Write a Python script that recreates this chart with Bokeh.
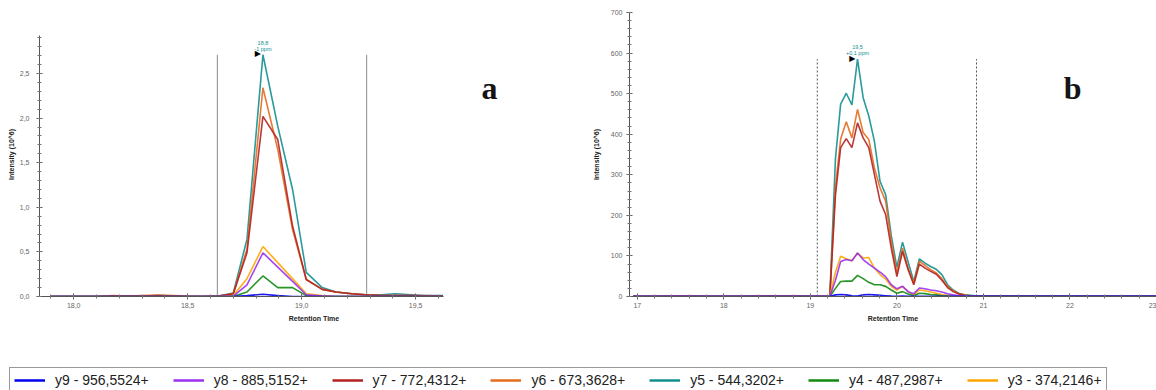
from bokeh.plotting import figure
from bokeh.models import Label, Legend, LegendItem, CustomJSTickFormatter, SingleIntervalTicker, Range1d
from bokeh.layouts import column, row
from bokeh.embed import file_html
from bokeh.resources import INLINE
from bokeh.core.properties import value

# ---------------- data ----------------
series_names = ["y9 - 956,5524+", "y8 - 885,5152+", "y7 - 772,4312+", "y6 - 673,3628+",
                "y5 - 544,3202+", "y4 - 487,2987+", "y3 - 374,2146+"]
series_colors = ["#0000ee", "#9b30f0", "#b22222", "#e46c1e", "#138f8f", "#108a10", "#ffa500"]

# panel a : retention time (min) and intensity (10^6)
time_a = [17.90, 18.00, 18.10, 18.17, 18.24, 18.30, 18.37, 18.44, 18.50, 18.57, 18.635, 18.70,
          18.76, 18.83, 18.895, 18.96, 19.02, 19.09, 19.15, 19.22, 19.28, 19.35, 19.41, 19.48,
          19.54, 19.62]
a_y9 = [0, 0, 0, 0, 0, 0, 0, 0, 0, 0, 0, 0, 0.01, 0.025, 0.01, 0, 0, 0, 0, 0, 0, 0, 0, 0, 0, 0]
a_y8 = [0, 0, 0, 0, 0, 0, 0, 0, 0, 0, 0, 0.005, 0.13, 0.49, 0.33, 0.17, 0.02, 0.005, 0, 0, 0, 0, 0, 0, 0, 0]
a_y7 = [0, 0, 0, 0.005, 0.005, 0.005, 0.01, 0.005, 0, 0, 0.005, 0.03, 0.49, 2.02, 1.76, 0.79, 0.19,
        0.08, 0.05, 0.03, 0.02, 0.01, 0.01, 0.01, 0.005, 0.005]
a_y6 = [0, 0, 0, 0.01, 0.005, 0.01, 0.015, 0.01, 0.005, 0, 0.005, 0.03, 0.53, 2.34, 1.65, 0.75, 0.19,
        0.08, 0.05, 0.03, 0.02, 0.01, 0.01, 0.01, 0.01, 0.005]
a_y5 = [0, 0, 0, 0.005, 0.005, 0, 0.005, 0.005, 0, 0, 0.005, 0.04, 0.64, 2.71, 1.91, 1.20, 0.27,
        0.10, 0.05, 0.03, 0.02, 0.02, 0.03, 0.02, 0.01, 0.01]
a_y4 = [0, 0, 0, 0, 0, 0, 0, 0, 0, 0, 0, 0, 0.05, 0.23, 0.10, 0.10, 0.01, 0, 0, 0, 0, 0, 0, 0, 0, 0]
a_y3 = [0, 0, 0, 0, 0, 0, 0, 0, 0, 0, 0, 0.01, 0.20, 0.56, 0.38, 0.20, 0.03, 0.01, 0, 0, 0, 0, 0, 0, 0, 0]
a_bounds = [18.63, 19.285]

# panel b
time_b = [16.95, 17.2, 17.4, 17.6, 17.8, 18.0, 18.2, 18.4, 18.6, 18.8, 19.0, 19.16, 19.225,
          19.29, 19.35, 19.415, 19.48, 19.545, 19.61, 19.675, 19.74, 19.805, 19.87, 19.935, 20.0,
          20.065, 20.13, 20.195, 20.26, 20.325, 20.39, 20.455, 20.52, 20.585, 20.65, 20.715, 20.78,
          20.845, 20.91, 21.0, 21.2, 21.4, 21.6, 21.8, 22.0, 22.2, 22.4, 22.6, 23.0]
b_y9 = [0, 0, 0, 0, 0, 0, 0, 0, 0, 0, 0, 0, 0,
        4, 5, 4, 2, 1, 4, 5, 4, 3, 2, 1, 0.5, 1, 0.5, 0.5, 0.5, 0.5, 0.5, 0.5, 0.5, 0.5, 0.5, 0.5,
        0.5, 0.5, 0.5, 0.5, 0.5, 0.5, 0.5, 0.5, 0.5, 0.5, 0.5, 0.5, 0.5]
b_y8 = [0.5, 0.5, 0.5, 0.5, 0.5, 0.5, 0.5, 0.5, 0.5, 0.5, 0.5, 0.5, 0,
        40, 86, 91, 88, 107, 91, 80, 70, 60, 49, 29, 19, 25, 12, 7, 21, 19, 16, 14, 11, 7, 4, 2,
        1, 0.5, 0.5, 0.5, 0.5, 0.5, 0.5, 0.5, 0.5, 0.5, 0.5, 0.5, 0.5]
b_y7 = [0.5, 0.5, 1, 1, 0.5, 0.5, 0.5, 1, 1, 1, 0.5, 0.5, 0,
        250, 367, 389, 367, 428, 391, 367, 301, 235, 202, 119, 49, 111, 66, 29, 80, 70, 62, 55, 40,
        22, 12, 6, 3, 2, 1, 1, 1, 1, 0.5, 0.5, 0.5, 0.5, 0.5, 0.5, 0.5]
b_y6 = [0.5, 0.5, 1, 1, 0.5, 0.5, 0.5, 1, 1, 1, 0.5, 0.5, 0,
        270, 388, 431, 391, 461, 404, 387, 317, 268, 235, 136, 58, 119, 70, 33, 87, 76, 66, 58, 44,
        25, 14, 7, 4, 2, 2, 1.5, 1, 1, 1, 0.5, 0.5, 0.5, 0.5, 0.5, 0.5]
b_y5 = [0.5, 0.5, 1, 1, 0.5, 0.5, 0.5, 1, 1, 1, 0.5, 0.5, 0,
        340, 474, 501, 472, 585, 490, 445, 383, 284, 251, 150, 72, 134, 85, 37, 93, 82, 74, 67, 54,
        29, 16, 8, 4, 3, 2, 1.5, 1, 1, 1, 0.5, 0.5, 0.5, 0.5, 0.5, 0.5]
b_y4 = [0, 0, 0, 0, 0, 0, 0, 0, 0, 0, 0, 0, 0,
        20, 37, 38, 38, 52, 44, 35, 29, 29, 25, 16, 8, 12, 6, 2, 8, 7, 5, 4, 2, 1, 0.5, 0.5, 0.5,
        0.5, 0.5, 0.5, 0.5, 0.5, 0.5, 0.5, 0.5, 0.5, 0.5, 0.5, 0.5]
b_y3 = [0, 0, 0, 0, 0, 0, 0, 0, 0, 0, 0, 0, 0,
        60, 99, 93, 88, 107, 95, 96, 70, 54, 43, 25, 16, 25, 12, 4, 16, 14, 11, 8, 5, 3, 2, 1, 1,
        0.5, 0.5, 0.5, 0.5, 0.5, 0.5, 0.5, 0.5, 0.5, 0.5, 0.5, 0.5]
b_bounds = [19.08, 20.92]

panel_a = [a_y9, a_y8, a_y7, a_y6, a_y5, a_y4, a_y3]
panel_b = [b_y9, b_y8, b_y7, b_y6, b_y5, b_y4, b_y3]
draw_order = [4, 3, 2, 6, 5, 1, 0]   # teal first ... blue last (on top)
ref_idx = 4                           # y5 used for peak annotation
ppm_a, ppm_b = "-1 ppm", "+0,1 ppm"

FONT = "Liberation Sans"


def style_axes(p, y_standoff, y_label_standoff):
    for ax in (p.xaxis[0], p.yaxis[0]):
        ax.axis_line_color = "#555555"
        ax.major_tick_line_color = "#555555"
        ax.minor_tick_line_color = "#777777"
        ax.major_tick_in = 3
        ax.major_tick_out = 3
        ax.minor_tick_in = 2
        ax.minor_tick_out = 2
        ax.major_label_text_font = FONT
        ax.major_label_text_font_size = "7px"
        ax.major_label_text_color = "#666666"
        ax.axis_label_text_font = FONT
        ax.axis_label_text_font_size = "7px"
        ax.axis_label_text_font_style = "bold"
        ax.axis_label_text_color = "#222222"
    p.xaxis.axis_label = "Retention Time"
    p.yaxis.axis_label = "Intensity (10^6)"
    p.xaxis.major_label_standoff = 3
    p.xaxis.axis_label_standoff = 4
    p.yaxis.major_label_standoff = y_standoff
    p.yaxis.axis_label_standoff = y_label_standoff
    p.xgrid.visible = False
    p.ygrid.visible = False
    p.outline_line_color = None


def fmt1(t):
    return ("%.1f" % t).replace(".", ",")


def draw_panel(p, times, data, bounds, dash, bcolor, ppm):
    ref = data[ref_idx]
    peak_i = max(range(len(ref)), key=lambda i: ref[i])
    top = ref[peak_i]
    p.segment(x0=bounds, x1=bounds, y0=[0] * len(bounds), y1=[top] * len(bounds),
              line_color=bcolor, line_width=1, line_dash=dash)
    for k in draw_order:
        p.line(times, data[k], line_color=series_colors[k], line_width=1.6, line_alpha=0.9)
    pt, pv = times[peak_i], ref[peak_i]
    p.text(x=[pt], y=[pv], text=["\u25B6"], text_align="right", text_baseline="middle",
           x_offset=-2, y_offset=-1, text_font=value("DejaVu Sans"), text_font_size="8px",
           text_color="black")
    p.text(x=[pt, pt], y=[pv, pv], text=[fmt1(pt), ppm], text_align="center",
           text_baseline="middle", y_offset=[-12, -6], text_font=value(FONT),
           text_font_size="5.5px", text_color=series_colors[ref_idx])


# ---------------- panel a ----------------
pa = figure(width=588, height=338, x_range=Range1d(17.85, 20.258), y_range=Range1d(0, 3.184),
            output_backend="svg", toolbar_location=None,
            min_border_left=39, min_border_right=0, min_border_top=12, min_border_bottom=42)
style_axes(pa, 7, 2)
pa.xaxis.ticker = SingleIntervalTicker(interval=0.5, num_minor_ticks=5)
pa.yaxis.ticker = SingleIntervalTicker(interval=0.5, num_minor_ticks=5)
pa.xaxis.bounds = (17.85, 19.622)
pa.yaxis.bounds = (0, 2.926)
pa.xaxis.formatter = CustomJSTickFormatter(code="return tick.toFixed(1).replace('.', ',');")
pa.yaxis.formatter = CustomJSTickFormatter(code="return tick.toFixed(1).replace('.', ',');")
draw_panel(pa, time_a, panel_a, a_bounds, "solid", "#8a8a8a", ppm_a)
pa.add_layout(Label(x=19.824, y=2.34, text="a", text_font="Liberation Serif", text_font_size="32px",
                    text_font_style="bold", text_color="#141414", text_align="center",
                    text_baseline="middle"))

# ---------------- panel b ----------------
pb = figure(width=568, height=338, x_range=Range1d(16.91, 23.0), y_range=Range1d(0, 700),
            output_backend="svg", toolbar_location=None,
            min_border_left=41, min_border_right=0, min_border_top=12, min_border_bottom=42)
style_axes(pb, 4, 8)
pb.xaxis.ticker = SingleIntervalTicker(interval=1, num_minor_ticks=5)
pb.yaxis.ticker = SingleIntervalTicker(interval=100, num_minor_ticks=5)
draw_panel(pb, time_b, panel_b, b_bounds, "2 2", "#555555", ppm_b)
pb.add_layout(Label(x=22.03, y=515, text="b", text_font="Liberation Serif", text_font_size="32px",
                    text_font_style="bold", text_color="#141414", text_align="center",
                    text_baseline="middle"))

# ---------------- legend ----------------
pl = figure(width=1156, height=52, output_backend="svg", toolbar_location=None,
            x_range=Range1d(0, 1), y_range=Range1d(0, 1),
            x_axis_location=None, y_axis_location=None, min_border=0)
pl.xgrid.visible = False
pl.ygrid.visible = False
pl.outline_line_color = None
items = []
for k, name in enumerate(series_names):
    r = pl.line(time_a, panel_a[k], line_color=series_colors[k], line_width=2.5)
    items.append(LegendItem(label=name, renderers=[r]))
leg = Legend(items=items, orientation="horizontal", location=(9, -3),
             label_text_font=FONT, label_text_font_size="14px", label_text_color="#222222",
             glyph_width=31, glyph_height=16, label_height=16, label_standoff=10, spacing=24,
             padding=4, margin=0, border_line_color="#333333", border_line_width=1,
             background_fill_alpha=1)
pl.add_layout(leg, "center")

layout = column(row(pa, pb), pl)
open("out.html", "w").write(file_html(layout, INLINE))
